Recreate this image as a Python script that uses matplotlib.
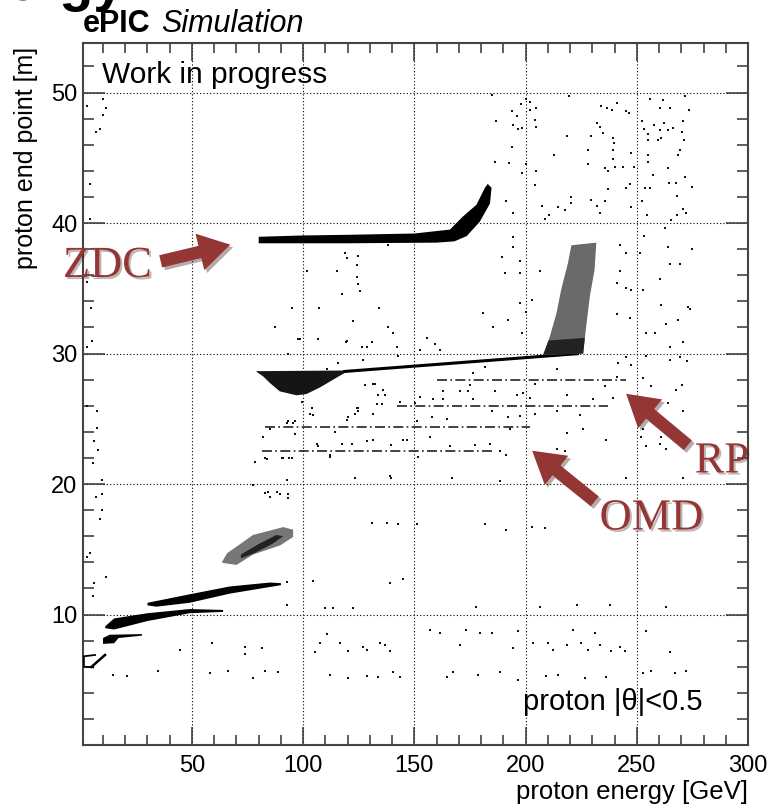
import matplotlib
matplotlib.use("Agg")
import matplotlib.pyplot as plt
import matplotlib.ticker as ticker
import matplotlib.patheffects as pe
from matplotlib.patches import FancyArrowPatch

plt.rcParams['font.family'] = ['Liberation Sans', 'DejaVu Sans']

# ---- data (energy GeV, end point m) ----
# ZDC band, curls up near 180 GeV
zdc_x = [80, 120, 160, 168, 173.5, 179.4, 184, 184.7, 183, 181.7, 177.9, 171.8, 166, 150, 120, 100, 80]
zdc_y = [38.45, 38.45, 38.5, 38.6, 39.0, 40.1, 41.5, 42.7, 43.0, 42.7, 41.4, 40.5, 39.5, 39.2, 39.1, 39.05, 38.95]

# blob at ~28 m and the thin line running up to the RP stack
blob_x = [79, 119, 119, 113.5, 107.5, 101.5, 97, 89.5, 85, 82, 79]
blob_y = [28.65, 28.7, 28.55, 28.0, 27.4, 26.9, 26.8, 27.1, 27.75, 28.25, 28.6]
line28_x = [118, 224]
line28_y = [28.62, 30.0]

# RP column, with its denser foot
rp_x = [207.9, 225.9, 227.4, 228.9, 231, 231.8, 220.6, 219, 216, 213.9, 210.9]
rp_y = [29.9, 30.0, 32.3, 34.4, 36.4, 38.5, 38.3, 36.9, 34.9, 33.1, 31.3]
rpfoot_x = [207.9, 225.9, 226.6, 210.3]
rpfoot_y = [29.9, 30.0, 31.2, 31.0]

# dashed horizontal lines (energy range, end point)
hl_x0 = [160, 142, 83, 81.5]
hl_x1 = [245, 237, 202, 185]
hl_y = [28.0, 26.0, 24.4, 22.5]

# cloud near 15 m
cloud_x = [63.4, 65.8, 77.5, 91, 95.5, 95.5, 89.7, 77.5, 70, 64]
cloud_y = [14.0, 14.7, 16.1, 16.7, 16.5, 15.95, 15.3, 14.6, 13.8, 13.95]
core_x = [72, 80, 88, 91, 86, 78, 72]
core_y = [14.6, 15.4, 16.1, 16.0, 15.4, 14.7, 14.3]

# low energy bands
b1_x = [30, 49, 67, 85, 90, 90, 67, 49, 34, 30]
b1_y = [10.9, 11.55, 12.15, 12.45, 12.4, 12.25, 11.6, 10.9, 10.6, 10.7]
b2_x = [11, 15, 30, 49, 64, 64, 49, 30, 15, 11]
b2_y = [9.1, 9.7, 10.1, 10.42, 10.35, 10.2, 10.1, 9.5, 8.85, 8.95]
b3_x = [10, 10, 13, 27.5, 27.5, 17, 15]
b3_y = [7.75, 8.2, 8.45, 8.5, 8.38, 8.2, 7.8]
d_x = [6.4, 1.4, 1.4, 5.6]
d_y = [6.9, 6.8, 6.0, 5.95]
d2_x = [4.9, 10.9]
d2_y = [6.0, 6.9]

# sparse single hits
bg_x = [184.7, 186.9, 186.2, 194.1, 196.2, 194.4, 196.7, 198.2, 197.9, 200.1, 201.9, 202.2, 204.6, 204.3, 204.6,
        193.8, 192.5, 200.1, 204.6, 204.4, 198.2, 191.4, 194.4, 207.2, 210.4, 208.9, 214.6, 217.9, 220.2, 220.6,
        212.8, 218.8, 219.5, 228.1, 228.1, 229.6, 229.6, 231.9, 232.2, 234.1, 236.6, 238.9, 240.9, 234.8, 233.4,
        239.3, 239.6, 239.1, 239.1, 235.6, 237.1, 240.1, 243.8, 247.6, 245.3, 246.4, 237.1, 245.0, 246.8, 248.7,
        235.6, 233.4, 247.2, 252.5, 254.6, 253.6, 255.8, 257.3, 255.1, 255.1, 255.1, 255.1, 253.3, 252.5, 255.8,
        261.8, 260.6, 264.8, 262.1, 257.6, 260.3, 264.1, 266.3, 261.1, 259.6, 270.8, 270.5, 271.1, 269.3, 268.6,
        271.6, 273.5, 264.1, 264.5, 267.8, 271.6, 274.6, 268.3, 270.8, 272.0, 268.3, 265.6, 262.6,
        9.9, 11.3, 9.9, 8.7, 6.9, 4.2, 4.2, 2.7, 3, 5, 3, 7.1, 7.4, 6.0, 7.9, 5.6, 9.4, 6.9, 9.4, 9.4, 8.7,
        4.2, 2.9, 6.0, 11.2, 5.6, 3, 4.5,
        82.8, 84.3, 88.1, 89.6, 93.3, 93.3, 85.1, 92.5, 77.6, 130.8, 137.5, 142.7, 151, 123.3, 139.7,
        104.5, 92.6, 139, 145, 91, 93.6, 94.8, 83.6, 78.3, 85.1, 92.6, 95.5, 103.8, 103, 124.7, 123.3, 131.5,
        133, 135.3, 119.5, 114.3, 106, 112, 121.8, 128.5, 131.5, 139.7, 145, 103.8, 99.3, 136, 136.7, 127.7, 131.5,
        140.5, 128.5, 126.3, 130.8, 119.5, 142, 142.7, 127, 115.8, 110.5, 93.3, 97.8, 106.8, 155.5, 159.2, 161.5,
        152.5, 163, 170.4, 174.2, 175, 176.4, 181.7, 186.2, 196, 132.2, 136, 133.7, 143.5, 150.2, 152.5, 158.4,
        163, 176.4, 103.8, 104.5, 124, 124.7, 120.3, 157.7, 164.5, 192.1, 184.7, 93.3, 96.3, 82, 85, 96.3,
        106.8, 112, 117.3, 121.8, 131.5, 139.7, 146.5, 157, 165.9, 177.2, 183.9, 188.4, 191.4, 192.9, 151,
        151.7, 139, 123.3, 166.7, 90.3, 94.8, 78.3, 82.8,
        194.4, 194.4, 189.2, 197.4, 190.7, 197.4, 206.4, 202.7, 197.4, 200.4, 192.2, 185.4, 198.2, 180.9,
        242.3, 245.3, 251.3, 253.1, 264.1, 274.6, 264.9, 269.4, 260.3, 273.1, 273.8, 261.1, 242.3, 240.9,
        245.3, 247.6, 252.8, 240.9, 246.8, 254.3, 258.1, 263.3, 268.6, 270.8, 264.9, 245.3, 247.6, 254.3,
        264.9, 269.4, 272.4, 241.6, 252.8, 256.6, 270.1, 267.8, 240.9, 235.6, 213.9, 204.2, 198.9, 201.9,
        218.4, 230.4, 239.3, 264.1, 270.8, 257.3, 224.4, 213.9, 204.2, 197.4, 218.4, 225.9, 236.3, 252.8,
        252.1, 260.3, 263.3, 254.3, 261.1, 213.9, 217.6, 245.3, 270.8, 188.4, 181.7, 191.4, 202.7, 208.8,
        44.7, 34.9, 14.6, 20.9, 58.9, 58.1, 66.3, 73.8, 73.8, 81.3, 77.5, 82.8, 88.8, 92.5, 105.3, 107.5,
        110.5, 116.5, 112, 120.3, 120.3, 127, 128.5, 134.5, 136.7, 139, 128.5, 133.7, 140.5, 109.8, 113.5,
        122.5, 143.5, 157, 161.5, 170.4, 173.4, 179.4, 184.7, 196.7, 194.4, 203.4, 210.1, 212.4, 218.4,
        221.4, 225.1, 228.1, 231.1, 233.4, 238.6, 242.3, 244.6, 254.3, 264.9, 252.8, 256.6, 267.1, 272.3,
        164.5, 167.4, 178.7, 188.4, 196.7, 209.4, 214.6, 226.6, 236.3, 177.9, 206.4, 222.9, 237.9, 263.3,
        118.8, 119.5, 124.8, 124, 124, 124.8, 125.5, 117.3, 115, 101.6, 94.8, 107.2, 122.2, 134.2, 138.2,
        140.5, 87.3, 98.5, 119.2, 138.2]
bg_y = [49.85, 47.8, 44.7, 48.6, 48.2, 47.5, 47.2, 47.3, 49.1, 49.5, 49.3, 48.7, 48.8, 47.9, 47.4,
        45.8, 44.6, 44.5, 44.0, 42.9, 43.8, 41.7, 40.8, 41.3, 40.6, 40.3, 41.2, 41.0, 41.5, 42.0,
        45.2, 46.7, 49.7, 45.6, 44.5, 46.7, 41.8, 41.3, 47.7, 49.0, 48.8, 48.7, 49.2, 46.9, 47.4,
        46.5, 46.1, 45.6, 44.9, 44.2, 44.0, 44.3, 44.3, 45.4, 48.6, 48.4, 42.6, 42.7, 43.0, 44.3,
        41.7, 40.8, 41.2, 41.7, 40.6, 42.7, 42.7, 43.7, 44.7, 45.2, 46.4, 46.8, 47.2, 47.8, 49.5,
        49.4, 48.8, 48.8, 47.7, 47.5, 47.1, 47.1, 47.3, 46.5, 46.4, 47.8, 47.0, 46.4, 45.6, 45.2,
        49.7, 48.7, 44.2, 43.1, 43.1, 43.5, 42.8, 42.1, 41.1, 40.8, 40.6, 40.2, 39.6,
        49.5, 48.8, 48.3, 47.2, 47.0, 43.0, 40.3, 49.0, 35.5, 31.0, 30.5, 25.6, 24.3, 23.3, 22.6, 21.6, 20.3, 19.0, 19.2, 18.0, 17.3,
        14.7, 14.4, 12.4, 12.9, 11.4, 26.0, 33.5,
        19.3, 19.4, 19.4, 19.2, 19.2, 18.9, 19.0, 20.3, 19.9, 17.0, 17.0, 16.9, 16.9, 20.5, 20.5,
        12.6, 12.5, 12.4, 12.7, 22.0, 22.0, 22.0, 21.9, 21.7, 24.2, 24.7, 24.7, 25.8, 25.4, 25.8, 25.4, 25.4,
        26.1, 26.1, 24.9, 24.0, 23.1, 22.2, 23.1, 23.3, 23.4, 23.0, 23.4, 27.5, 26.3, 27.2, 26.8, 27.6, 27.7,
        31.6, 30.5, 30.5, 30.9, 31.0, 30.5, 29.8, 29.5, 29.3, 28.8, 30.0, 31.1, 31.1, 31.2, 30.7, 30.3,
        30.3, 27.1, 27.1, 27.1, 27.6, 28.5, 29.0, 27.1, 26.8, 27.7, 27.2, 26.8, 26.3, 26.2, 26.7, 26.5,
        26.5, 26.5, 25.8, 25.3, 25.8, 25.6, 25.1, 25.1, 25.0, 25.1, 25.6, 24.8, 24.8, 23.6, 24.2, 23.8,
        22.9, 22.1, 23.1, 23.1, 23.4, 23.0, 23.4, 23.6, 22.9, 23.0, 23.1, 22.5, 22.2, 24.2, 24.8,
        22.1, 20.6, 20.5, 20.5, 22.0, 22.0, 21.7, 22.0,
        38.9, 38.2, 37.4, 37.1, 36.2, 36.2, 36.3, 34.1, 33.9, 33.2, 32.6, 32.0, 31.6, 33.1,
        38.3, 37.7, 37.7, 39.0, 38.2, 38.0, 36.9, 36.9, 35.7, 33.6, 33.4, 33.7, 36.3, 35.4,
        35.0, 34.9, 34.9, 33.0, 32.7, 31.6, 31.6, 32.3, 32.6, 30.9, 30.5, 29.7, 29.1, 29.8,
        29.5, 29.7, 29.4, 29.3, 28.1, 27.5, 27.6, 27.2, 28.2, 27.5, 28.8, 27.7, 27.0, 26.6,
        26.8, 26.5, 26.6, 26.2, 25.6, 25.2, 25.3, 25.6, 25.4, 25.2, 23.9, 24.2, 23.4, 24.2,
        23.6, 23.1, 22.7, 22.9, 23.6, 22.7, 22.5, 20.5, 20.5, 20.2, 16.9, 16.5, 16.7, 16.6,
        7.3, 5.7, 5.4, 5.3, 7.8, 5.5, 5.7, 7.5, 7.0, 7.4, 5.1, 5.7, 5.6, 10.7, 7.1, 7.8,
        8.5, 7.8, 5.4, 5.1, 7.2, 7.5, 7.3, 7.8, 7.7, 7.2, 5.3, 5.2, 5.6, 10.5, 10.5,
        10.5, 5.2, 8.8, 8.6, 7.7, 8.8, 8.6, 8.6, 8.7, 7.4, 7.8, 7.8, 7.3, 7.7,
        8.8, 7.8, 7.3, 8.6, 7.7, 7.2, 7.5, 7.2, 8.7, 7.1, 5.5, 5.7, 5.5, 5.7,
        5.2, 5.6, 5.4, 5.6, 5.0, 5.3, 5.4, 5.1, 5.2, 10.6, 10.6, 10.7, 10.7, 10.6,
        37.7, 37.3, 37.5, 36.8, 35.9, 35.3, 34.8, 34.6, 36.3, 36.3, 33.5, 33.5, 32.5, 33.5, 32.0,
        31.6, 32.0, 31.1, 30.9, 38.3]

x_ticks = [50, 100, 150, 200, 250, 300]
y_ticks = [10, 20, 30, 40, 50]

red = '#943634'

fig = plt.figure(figsize=(7.73, 8.05), dpi=100)
ax = fig.add_axes([83 / 773, 60 / 805, 665 / 773, 702 / 805])

ax.set_xlim(1, 300)
ax.set_ylim(0, 53.8)

# grid under everything
for gx in x_ticks[:-1]:
    ax.axvline(gx, color='black', lw=0.8, ls=(0, (1, 2)), zorder=0)
for gy in y_ticks:
    ax.axhline(gy, color='black', lw=0.8, ls=(0, (1, 2)), zorder=0)

# sparse hits
ax.scatter(bg_x, bg_y, s=2.0, marker='s', c='#111111', linewidths=0, zorder=2)

# bands
ax.fill(zdc_x, zdc_y, color='black', lw=0, zorder=3)
ax.fill(blob_x, blob_y, color='#151515', lw=0, zorder=3)
ax.plot(line28_x, line28_y, color='black', lw=2.2, solid_capstyle='butt', zorder=3)
ax.fill(rp_x, rp_y, color='#6a6a6a', lw=0, zorder=3)
ax.fill(rpfoot_x, rpfoot_y, color='#222222', lw=0, zorder=3)
ax.fill(cloud_x, cloud_y, color='#777777', lw=0, zorder=3)
ax.fill(core_x, core_y, color='#222222', lw=0, zorder=3)
ax.fill(b1_x, b1_y, color='black', lw=0, zorder=3)
ax.fill(b2_x, b2_y, color='black', lw=0, zorder=3)
ax.fill(b3_x, b3_y, color='black', lw=0, zorder=3)
ax.plot(d_x, d_y, color='black', lw=1.3, zorder=3)
ax.plot(d2_x, d2_y, color='black', lw=1.8, zorder=3)
for x0, x1, yy in zip(hl_x0, hl_x1, hl_y):
    ax.plot([x0, x1], [yy, yy], color='#222222', lw=1.2, ls=(0, (6, 2, 1, 2)), zorder=3)

# axes style, ROOT-like
ax.xaxis.set_major_locator(ticker.FixedLocator(x_ticks))
ax.xaxis.set_minor_locator(ticker.MultipleLocator(10))
ax.yaxis.set_major_locator(ticker.FixedLocator(y_ticks))
ax.yaxis.set_minor_locator(ticker.MultipleLocator(2))
ax.tick_params(which='both', direction='in', top=True, right=True, width=1.1, color='#333333')
ax.tick_params(which='major', axis='x', length=13, labelsize=17, pad=7)
ax.tick_params(which='minor', axis='x', length=7)
ax.tick_params(which='major', axis='y', length=16, labelsize=17, pad=4)
ax.tick_params(which='minor', axis='y', length=8)
for sp in ax.spines.values():
    sp.set_linewidth(1.5)
    sp.set_color('#444444')

fig.text(748 / 773, 6 / 805, 'proton energy [GeV]', ha='right', va='baseline', fontsize=18.5)
fig.text(26 / 773, 1 - 47 / 805, 'proton end point [m]', ha='center', va='top', rotation=90, fontsize=18)

ax.text(101.7 / 773, 1 - 83 / 805, 'Work in progress', transform=fig.transFigure, fontsize=21.5,
        va='baseline', ha='left')
ax.text(523 / 773, 1 - 710 / 805, 'proton |\u03b8|<0.5', transform=fig.transFigure, fontsize=21,
        va='baseline', ha='left')

fig.text(83 / 773, 1 - 32 / 805, 'ePIC', fontsize=22, fontweight='bold', va='baseline', ha='left')
fig.text(161 / 773, 1 - 32 / 805, 'Simulation', fontsize=22, fontstyle='italic', va='baseline', ha='left')
# slide title cut off at the top edge, only the descenders show
fig.text(124 / 773, 1.0, 'Energy', fontsize=40, fontweight='bold', va='baseline', ha='right')

# red annotations
shadow = [pe.SimplePatchShadow(offset=(2, -2), alpha=0.35), pe.Normal()]
arrows = [((158, 543), (233, 561)), ((597, 302), (530, 356)), ((690, 358), (624, 413))]
for tail, head in arrows:
    arr = FancyArrowPatch(tail, head, transform=None, arrowstyle='simple,head_length=1.5,head_width=1.8,tail_width=0.6',
                          mutation_scale=15, color=red, lw=0, zorder=10)
    arr.set_path_effects(shadow)
    fig.add_artist(arr)

labels = [('ZDC', 107.5, 539), ('OMD', 651.5, 286.5), ('RP', 722, 343.5)]
for txt, lx, ly in labels:
    fig.text(lx / 773, ly / 805, txt, fontsize=32, color=red, family='Liberation Serif',
             ha='center', va='center', path_effects=[pe.withSimplePatchShadow(offset=(1.5, -1.5), alpha=0.3)])

fig.savefig('out.png', dpi=100)
